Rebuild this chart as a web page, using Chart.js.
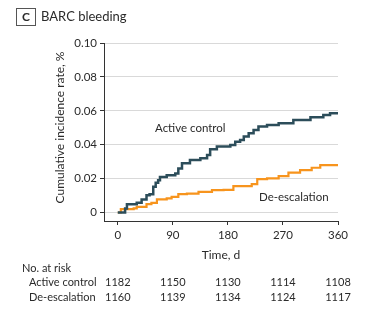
<!DOCTYPE html>
<html>
<head>
<meta charset="utf-8">
<script src="https://cdn.jsdelivr.net/npm/chart.js@4/dist/chart.umd.min.js"></script>
<style>
html,body{margin:0;padding:0;background:#fff;}
#wrap{position:relative;width:377px;height:328px;}
canvas{display:block;}
</style>
</head>
<body>
<div id="wrap"><canvas id="c" width="377" height="328"></canvas></div>
<script>
// ---- data ----
const panelLetter = "C";
const panelTitle = "BARC bleeding";
const yAxisTitle = "Cumulative incidence rate, %";
const xAxisTitle = "Time, d";
const xTicks = [0, 90, 180, 270, 360];
const yTicks = [0, 0.02, 0.04, 0.06, 0.08, 0.10];
const seriesNames = ["Active control", "De-escalation"];

const activeDays = [0, 12, 15, 31, 39, 47, 52, 58, 62, 66, 69, 80, 94, 99, 105, 118, 135, 146, 151, 162, 184, 192, 200, 206, 214, 222, 230, 244, 263, 287, 315, 336, 347, 360];
const activeVals = [0, 0.0024, 0.0049, 0.0058, 0.0077, 0.0102, 0.0108, 0.0152, 0.0175, 0.019, 0.021, 0.022, 0.023, 0.026, 0.029, 0.031, 0.032, 0.034, 0.0373, 0.0389, 0.0398, 0.0418, 0.0428, 0.0448, 0.0468, 0.0487, 0.0507, 0.0517, 0.0527, 0.0546, 0.0562, 0.0576, 0.0586, 0.0586];

const deescDays = [0, 5, 26, 31, 47, 55, 64, 80, 88, 99, 113, 132, 154, 173, 189, 219, 228, 244, 263, 279, 298, 317, 331, 360];
const deescVals = [0, 0.002, 0.0024, 0.0033, 0.0049, 0.0057, 0.0077, 0.0083, 0.0092, 0.0108, 0.0112, 0.0122, 0.0132, 0.0134, 0.0156, 0.0168, 0.0197, 0.0201, 0.0215, 0.0235, 0.025, 0.0264, 0.028, 0.028];

const riskTimes = [0, 90, 180, 270, 360];
const riskActive = [1182, 1150, 1130, 1114, 1108];
const riskDeesc = [1160, 1139, 1134, 1124, 1117];

// ---- chart ----
const FONT = "Lato";
const TXT = "#2a2a2a";
const toXY = (d, v) => d.map((x, i) => ({x: x, y: v[i]}));

const extras = {
  id: 'extras',
  afterDraw(chart) {
    const ctx = chart.ctx;
    const xs = chart.scales.x, ys = chart.scales.y;
    ctx.save();
    // panel letter box
    ctx.strokeStyle = '#555';
    ctx.lineWidth = 1;
    ctx.strokeRect(16.5, 8.5, 19, 17);
    ctx.fillStyle = TXT;
    ctx.font = "bold 12px " + FONT;
    ctx.textAlign = 'center';
    ctx.textBaseline = 'middle';
    ctx.fillText(panelLetter, 26, 17.5);
    ctx.font = "13px " + FONT;
    ctx.textAlign = 'left';
    ctx.fillText(panelTitle, 41, 17);
    // y axis title
    ctx.save();
    ctx.translate(60, 127.5);
    ctx.rotate(-Math.PI / 2);
    ctx.textAlign = 'center';
    ctx.font = "12px " + FONT;
    ctx.fillText(yAxisTitle, 0, 0);
    ctx.restore();
    // series labels
    ctx.font = "11.5px " + FONT;
    ctx.fillText(seriesNames[0], 155, 128);
    ctx.fillText(seriesNames[1], 259, 197);
    // risk table
    ctx.font = "11px " + FONT;
    ctx.fillText("No. at risk", 22, 268);
    ctx.fillText(seriesNames[0], 29, 282);
    ctx.fillText(seriesNames[1], 29, 297);
    ctx.textAlign = 'center';
    riskTimes.forEach((t, i) => {
      const px = xs.getPixelForValue(t);
      ctx.fillText(String(riskActive[i]), px, 282);
      ctx.fillText(String(riskDeesc[i]), px, 297);
    });
    ctx.restore();
  }
};

new Chart(document.getElementById('c'), {
  type: 'line',
  data: {
    datasets: [
      {label: seriesNames[0], data: toXY(activeDays, activeVals), borderColor: '#2c4d5a', borderWidth: 2.5, stepped: 'before', pointRadius: 0, fill: false},
      {label: seriesNames[1], data: toXY(deescDays, deescVals), borderColor: '#f7941d', borderWidth: 2.2, stepped: 'before', pointRadius: 0, fill: false}
    ]
  },
  options: {
    responsive: false,
    animation: false,
    devicePixelRatio: 1,
    layout: {padding: {left: 0, top: 43, right: 39, bottom: 66}},
    plugins: {legend: {display: false}, tooltip: {enabled: false}},
    scales: {
      x: {
        type: 'linear', min: -22.5, max: 360,
        afterBuildTicks: s => { s.ticks = xTicks.map(v => ({value: v})); },
        afterFit: s => { s.height = 41; },
        grid: {display: true, drawOnChartArea: false, drawTicks: true, tickLength: 4, color: '#333'},
        border: {display: true, color: '#333', width: 1},
        ticks: {color: TXT, font: {family: FONT, size: 11.5}, padding: 3, maxRotation: 0, autoSkip: false},
        title: {display: true, text: xAxisTitle, color: TXT, font: {family: FONT, size: 12}, padding: {top: 4, bottom: 0}}
      },
      y: {
        type: 'linear', min: -0.005, max: 0.10,
        afterBuildTicks: s => { s.ticks = yTicks.map(v => ({value: v})); },
        afterFit: s => { s.width = 104; },
        grid: {display: true, drawOnChartArea: true, drawTicks: true, tickLength: 4, color: '#d9d9d9', tickColor: '#333'},
        border: {display: true, color: '#333', width: 1},
        ticks: {color: TXT, font: {family: FONT, size: 11.5}, padding: 3, callback: v => v === 0 ? '0' : v.toFixed(2)},
        title: {display: false}
      }
    }
  },
  plugins: [extras]
});
</script>
</body>
</html>
